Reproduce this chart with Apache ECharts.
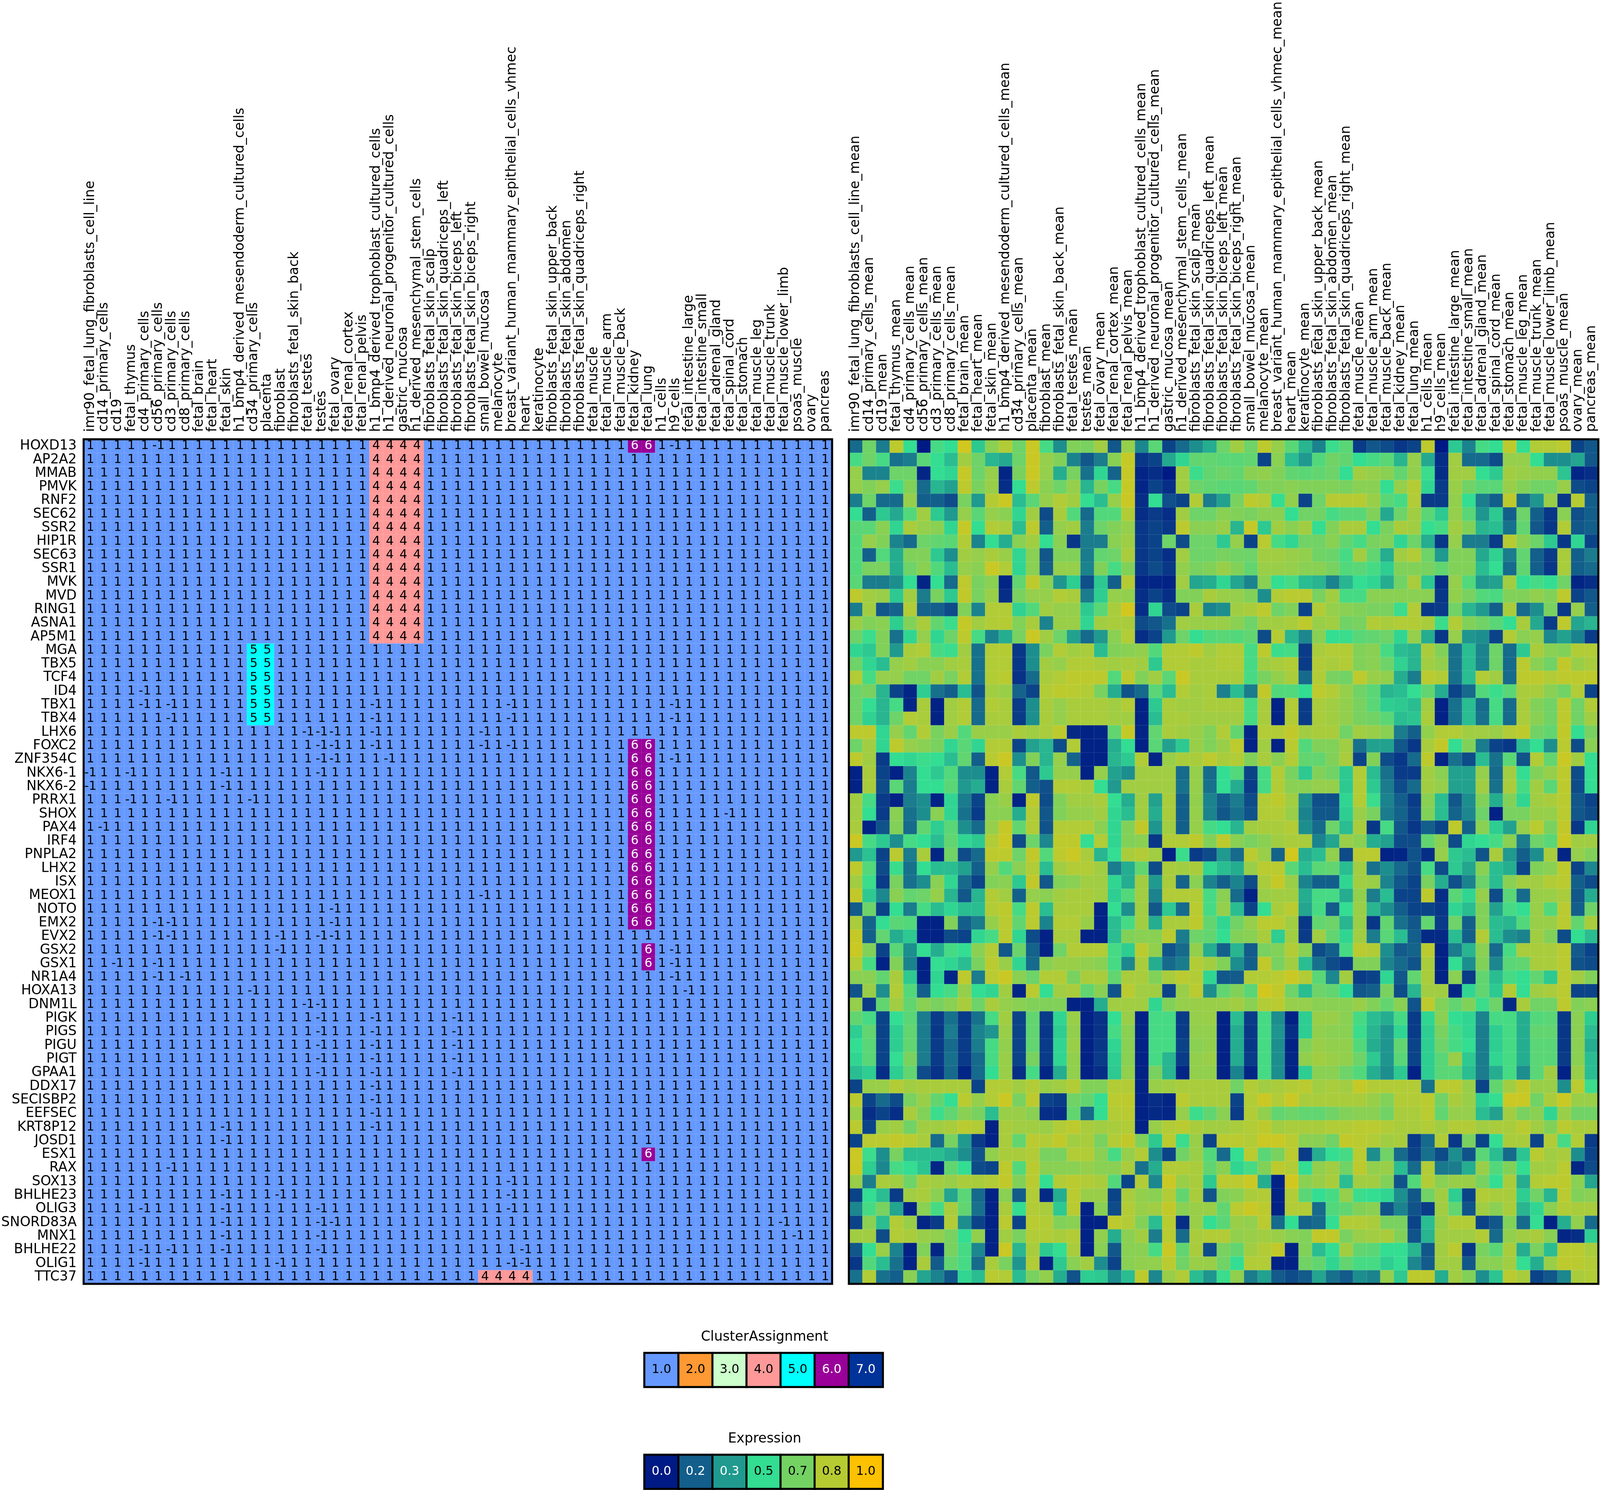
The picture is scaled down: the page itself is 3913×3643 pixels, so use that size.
<!DOCTYPE html>
<html><head><meta charset="utf-8">
<style>html,body{margin:0;padding:0;background:#fff}#c{width:3913px;height:3643px}</style>
<script src="https://cdn.jsdelivr.net/npm/echarts@6/dist/echarts.min.js"></script>
</head><body><div id="c"></div>
<script>
const samples = ["imr90_fetal_lung_fibroblasts_cell_line","cd14_primary_cells","cd19","fetal_thymus","cd4_primary_cells","cd56_primary_cells","cd3_primary_cells","cd8_primary_cells","fetal_brain","fetal_heart","fetal_skin","h1_bmp4_derived_mesendoderm_cultured_cells","cd34_primary_cells","placenta","fibroblast","fibroblasts_fetal_skin_back","fetal_testes","testes","fetal_ovary","fetal_renal_cortex","fetal_renal_pelvis","h1_bmp4_derived_trophoblast_cultured_cells","h1_derived_neuronal_progenitor_cultured_cells","gastric_mucosa","h1_derived_mesenchymal_stem_cells","fibroblasts_fetal_skin_scalp","fibroblasts_fetal_skin_quadriceps_left","fibroblasts_fetal_skin_biceps_left","fibroblasts_fetal_skin_biceps_right","small_bowel_mucosa","melanocyte","breast_variant_human_mammary_epithelial_cells_vhmec","heart","keratinocyte","fibroblasts_fetal_skin_upper_back","fibroblasts_fetal_skin_abdomen","fibroblasts_fetal_skin_quadriceps_right","fetal_muscle","fetal_muscle_arm","fetal_muscle_back","fetal_kidney","fetal_lung","h1_cells","h9_cells","fetal_intestine_large","fetal_intestine_small","fetal_adrenal_gland","fetal_spinal_cord","fetal_stomach","fetal_muscle_leg","fetal_muscle_trunk","fetal_muscle_lower_limb","psoas_muscle","ovary","pancreas"];
const meanSamples = samples.map(s => s + "_mean");
const genes = ["HOXD13","AP2A2","MMAB","PMVK","RNF2","SEC62","SSR2","HIP1R","SEC63","SSR1","MVK","MVD","RING1","ASNA1","AP5M1","MGA","TBX5","TCF4","ID4","TBX1","TBX4","LHX6","FOXC2","ZNF354C","NKX6-1","NKX6-2","PRRX1","SHOX","PAX4","IRF4","PNPLA2","LHX2","ISX","MEOX1","NOTO","EMX2","EVX2","GSX2","GSX1","NR1A4","HOXA13","DNM1L","PIGK","PIGS","PIGU","PIGT","GPAA1","DDX17","SECISBP2","EEFSEC","KRT8P12","JOSD1","ESX1","RAX","SOX13","BHLHE23","OLIG3","SNORD83A","MNX1","BHLHE22","OLIG1","TTC37"];

// Columns per gene row that read -1 in the assignment table
const minusOneCols = [[5,43],[],[],[],[],[],[],[],[],[],[],[],[],[],[],[],[],[],[4],[4,6,21,31,43],[6,21,31,43],[16,17,18,21,29],[17,18,21,29,31],[17,18,22,43],[0,3,10,17],[0,10],[3,6,12],[47],[1],[],[],[],[],[29],[18],[5,6,18],[5,6,14,17,18],[14,43],[2,5,43],[5,7,43],[12,44],[16,17],[17,21,27],[17,21,27],[17,21,27],[17,21,27],[17,21,27],[21],[21],[21],[10,21],[10],[],[6],[31],[10,14,31],[4,10,17,31],[10,17,18,51],[10,17,52],[4,6,10,17,32],[4,14,31,32],[]];
// Cells in other clusters: [cluster, rowFrom, rowTo, colFrom, colTo]
const clusterBlocks = [[4,0,14,21,24],[4,61,61,29,32],[5,15,20,12,13],[6,0,0,40,41],[6,22,35,40,41],[6,37,38,41,41],[6,52,52,41,41]];

const clusterLegendValues = [1,2,3,4,5,6,7];
const clusterLegendLabels = ["1.0","2.0","3.0","4.0","5.0","6.0","7.0"];
const clusterLegendColors = ["#6699ff","#ff9933","#ccffcc","#ff9999","#00ffff","#990099","#003399"];
const clusterTextColors = ["#000","#000","#000","#000","#000","#fff","#fff"];
const expressionLegendValues = [0,1/6,2/6,3/6,4/6,5/6,1];
const expressionLegendLabels = ["0.0","0.2","0.3","0.5","0.7","0.8","1.0"];
const expressionColors = ["#001a85","#135e8b","#209a8f","#33dd92","#74d263","#b6cb32","#fcc100"];
const expressionTextColors = ["#fff","#fff","#fff","#000","#000","#000","#000"];

const expressionRows = [
[.2,.65,.25,.85,.5,0,.55,.5,.9,.45,.72,.82,.65,.88,.55,.3,.7,.68,.78,.15,.75,.28,.6,.1,.2,.3,.38,.65,.78,.65,.85,.75,.6,.4,.27,.52,.6,.08,.15,.12,.07,.1,.85,0,.45,.27,.55,.5,.85,.5,.82,.82,.85,.1,.15],
[.55,.65,.55,.22,.25,.6,.5,.42,.78,.65,.4,.37,.65,.88,.75,.7,.27,.15,.25,.72,.87,.07,.1,.37,.48,.62,.62,.6,.6,.62,.1,.72,.42,.33,.58,.66,.62,.5,.55,.6,.4,.75,.37,.05,.78,.2,.2,.12,.75,.75,.5,.3,.3,.36,.15],
[.75,.27,.27,.65,.65,.03,.5,.48,.87,.65,.75,.03,.68,.88,.75,.38,.68,.22,.48,.18,.87,.03,.05,0,.78,.52,.62,.65,.62,.72,.74,.7,.62,.6,.62,.65,.5,.78,.75,.72,.62,.74,.52,.05,.78,.78,.5,.45,.78,.76,.74,.74,.44,.03,.05],
[.75,.7,.75,.52,.7,.2,.4,.35,.85,.68,.76,.05,.5,.85,.72,.65,.75,.4,.68,.55,.87,.03,.1,.05,.78,.65,.62,.6,.6,.62,.7,.7,.72,.7,.7,.7,.68,.72,.72,.5,.75,.83,.48,.08,.76,.66,.6,.6,.76,.7,.66,.66,.76,.12,.1],
[.25,.65,.2,.2,.75,.17,.17,.12,.68,.33,.83,.88,.42,.6,.75,.82,.78,.5,.42,.75,.88,.05,.5,.13,.1,.82,.25,.35,.68,.85,.82,.5,.74,.1,.65,.83,.83,.83,.76,.6,.55,.82,.08,.08,.74,.5,.25,.17,.85,.2,.32,.76,.07,.83,.17],
[.5,.17,.45,.37,.58,.78,.45,.33,.75,.6,.75,.72,.48,.78,.12,.8,.58,.2,.58,.58,.82,.05,.08,.05,.78,.65,.65,.72,.7,.68,.72,.72,.5,.66,.66,.55,.6,.6,.7,.37,.65,.78,.6,.45,.75,.6,.32,.45,.17,.65,.17,.07,.72,.13,.17],
[.6,.6,.72,.48,.8,.75,.72,.48,.87,.5,.82,.8,.42,.85,.17,.75,.78,.25,.65,.7,.75,.07,.1,.07,.85,.72,.72,.76,.4,.87,.45,.78,.72,.78,.5,.7,.8,.8,.5,.68,.8,.78,.5,.55,.78,.7,.4,.42,.22,.62,.15,.07,.82,.15,.17],
[.58,.75,.7,.27,.2,.65,.62,.6,.82,.27,.5,.38,.72,.78,.5,.72,.07,.25,.25,.72,.77,.07,.1,.65,.12,.65,.65,.45,.75,.1,.84,.55,.48,.66,.66,.72,.62,.55,.68,.7,.48,.65,.38,.07,.75,.25,.25,.08,.83,.72,.65,.45,.07,.48,.1],
[.58,.17,.58,.38,.7,.7,.45,.3,.78,.75,.8,.76,.48,.72,.15,.7,.7,.25,.62,.65,.8,.07,.1,.05,.78,.65,.65,.68,.66,.65,.78,.78,.76,.74,.66,.64,.55,.78,.62,.38,.78,.82,.65,.33,.7,.7,.37,.47,.25,.62,.17,.08,.8,.17,.25],
[.58,.68,.68,.38,.65,.72,.58,.42,.75,.72,.88,.82,.48,.72,.17,.75,.75,.27,.7,.55,.7,.07,.12,.07,.74,.68,.7,.76,.7,.62,.76,.76,.75,.72,.72,.68,.58,.6,.55,.46,.7,.7,.68,.62,.7,.7,.42,.5,.2,.62,.17,.07,.8,.17,.2],
[.6,.25,.25,.3,.5,.03,.5,.2,.85,.68,.72,.03,.62,.85,.72,.32,.46,.13,.45,.17,.83,.03,.03,.02,.78,.36,.38,.48,.36,.27,.72,.5,.55,.42,.4,.27,.4,.5,.48,.38,.66,.8,.45,.05,.75,.58,.33,.35,.78,.5,.55,.5,.66,.03,.05],
[.85,.78,.76,.45,.78,.25,.68,.45,.86,.68,.76,.05,.68,.75,.75,.82,.8,.25,.46,.75,.74,.05,.1,.05,.7,.7,.8,.76,.75,.7,.3,.82,.84,.84,.68,.78,.55,.55,.72,.72,.72,.72,.72,.07,.74,.68,.58,.56,.7,.7,.74,.7,.85,.1,.15],
[.25,.78,.15,.18,.82,.18,.17,.12,.7,.27,.82,.82,.47,.58,.78,.75,.75,.45,.6,.8,.9,.05,.48,.12,.1,.8,.27,.3,.78,.8,.85,.65,.7,.1,.82,.75,.72,.7,.68,.68,.52,.82,.07,.08,.66,.4,.33,.17,.8,.2,.3,.68,.07,.75,.17],
[.76,.7,.72,.46,.7,.8,.62,.52,.87,.78,.82,.83,.7,.8,.27,.76,.76,.48,.78,.8,.8,.12,.15,.22,.78,.76,.76,.76,.72,.65,.78,.78,.8,.85,.76,.78,.66,.68,.82,.8,.82,.82,.8,.52,.82,.7,.66,.6,.5,.8,.37,.08,.85,.36,.4],
[.65,.52,.7,.22,.48,.75,.48,.65,.85,.55,.27,.38,.68,.88,.78,.65,.35,.2,.33,.72,.82,.05,.1,.33,.65,.5,.58,.6,.58,.62,.12,.83,.4,.28,.72,.5,.52,.6,.62,.65,.48,.75,.38,.07,.75,.32,.3,.1,.82,.72,.75,.28,.35,.27,.08],
[.48,.45,.7,.33,.8,.82,.55,.52,.78,.22,.82,.83,.07,.3,.68,.82,.78,.8,.42,.7,.72,.74,.58,.82,.82,.85,.78,.82,.82,.55,.85,.52,.55,.08,.8,.82,.82,.7,.72,.55,.42,.4,.8,.7,.22,.42,.27,.65,.2,.45,.8,.72,.7,.82,.82],
[.65,.48,.42,.75,.78,.72,.72,.78,.8,.22,.82,.82,.07,.3,.78,.75,.82,.82,.8,.78,.8,.78,.45,.82,.82,.8,.8,.82,.82,.55,.78,.8,.82,.08,.82,.8,.82,.7,.72,.65,.47,.4,.78,.74,.22,.42,.27,.65,.2,.84,.72,.66,.86,.76,.8],
[.82,.55,.75,.75,.66,.66,.78,.68,.82,.22,.82,.84,.06,.2,.8,.82,.85,.85,.85,.58,.85,.7,.78,.6,.88,.8,.8,.8,.8,.55,.68,.74,.8,.2,.82,.68,.66,.85,.76,.74,.38,.25,.84,.82,.22,.42,.82,.78,.2,.85,.85,.82,.85,.85,.85],
[.65,.68,.4,.1,.03,.46,.22,.17,.42,.14,.78,.76,.18,.1,.82,.85,.84,.82,.68,.38,.14,.2,.6,.42,.82,.78,.8,.26,.42,.25,.86,.58,.58,.5,.85,.82,.75,.66,.6,.4,.42,.5,.62,.38,.1,.2,.58,.52,.6,.8,.8,.72,.66,.82,.1],
[.65,.5,.4,.55,.03,.8,.02,.78,.82,.2,.82,.8,.08,.3,.8,.75,.8,.8,.8,.78,.82,.02,.45,.8,.78,.78,.8,.8,.8,.55,.8,.02,.82,.08,.8,.78,.74,.68,.6,.46,.45,.42,.78,.02,.22,.42,.2,.55,.2,.8,.7,.66,.85,.66,.82],
[.65,.47,.4,.65,.82,.8,.02,.78,.82,.2,.8,.8,.08,.3,.8,.75,.8,.8,.8,.78,.78,.02,.42,.8,.8,.78,.78,.78,.78,.55,.8,.02,.82,.08,.8,.78,.74,.68,.66,.6,.42,.44,.8,.02,.22,.42,.22,.55,.2,.8,.72,.66,.85,.66,.78],
[.85,.85,.48,.75,.62,.82,.68,.76,.58,.76,.76,.76,.8,.78,.8,.85,.04,.02,.03,.62,.87,.03,.62,.8,.78,.76,.7,.82,.62,.03,.82,.82,.86,.78,.8,.8,.66,.78,.76,.72,.25,.17,.74,.82,.82,.78,.78,.76,.82,.85,.66,.62,.86,.5,.68],
[.65,.78,.48,.85,.75,.72,.68,.48,.6,.48,.82,.82,.1,.35,.4,.12,.82,.02,.02,.38,.5,.02,.6,.35,.45,.76,.7,.76,.85,.02,.78,.02,.84,.58,.7,.7,.78,.22,.35,.35,.15,.07,.8,.86,.5,.7,.25,.1,.07,.42,.5,.3,.84,.12,.72],
[.85,.78,.08,.5,.48,.52,.5,.42,.62,.17,.84,.88,.3,.7,.4,.75,.18,.02,.02,.4,.45,.82,.03,.76,.8,.8,.85,.8,.82,.7,.8,.72,.82,.62,.62,.7,.8,.1,.7,.12,.07,.2,.85,.02,.22,.12,.42,.22,.6,.14,.82,.62,.88,.78,.5],
[.02,.8,.1,.02,.27,.5,.45,.58,.3,.3,.02,.82,.55,.15,.45,.75,.75,.02,.75,.35,.3,.78,.78,.78,.2,.75,.2,.5,.58,.1,.55,.82,.68,.45,.7,.66,.45,.82,.42,.22,.08,.08,.78,.72,.35,.35,.75,.2,.78,.5,.7,.75,.85,.12,.5],
[.02,.8,.12,.6,.25,.5,.5,.6,.33,.38,.02,.8,.62,.17,.13,.82,.82,.8,.5,.33,.78,.78,.78,.78,.22,.75,.22,.5,.38,.08,.55,.82,.72,.72,.75,.75,.45,.82,.45,.25,.12,.2,.78,.75,.35,.35,.78,.22,.8,.55,.78,.6,.85,.12,.5],
[.78,.55,.08,.02,.25,.3,.02,.48,.25,.1,.72,.76,.02,.85,.12,.7,.78,.78,.8,.5,.38,.78,.35,.8,.17,.74,.27,.17,.25,.12,.82,.85,.78,.3,.13,.13,.48,.82,.52,.27,.17,.08,.72,.42,.15,.3,.7,.38,.7,.48,.78,.8,.84,.15,.1],
[.78,.5,.08,.72,.22,.3,.72,.48,.22,.08,.72,.72,.38,.82,.15,.7,.75,.75,.78,.48,.42,.78,.38,.8,.17,.75,.27,.15,.22,.14,.82,.82,.76,.27,.15,.15,.46,.76,.68,.25,.18,.1,.7,.42,.18,.28,.65,.02,.68,.68,.76,.75,.84,.15,.12],
[.8,.02,.14,.7,.2,.62,.46,.6,.3,.2,.75,.87,.62,.82,.14,.82,.82,.82,.72,.48,.7,.86,.32,.78,.17,.75,.55,.5,.4,.78,.8,.8,.82,.3,.2,.65,.42,.8,.07,.55,.15,.07,.17,.1,.85,.17,.72,.46,.35,.75,.84,.68,.86,.07,.48],
[.88,.55,.45,.3,.55,.5,.42,.62,.48,.45,.82,.88,.12,.65,.28,.85,.85,.5,.82,.48,.7,.72,.07,.82,.82,.85,.7,.85,.72,.68,.72,.78,.8,.8,.27,.36,.76,.72,.38,.35,.12,.12,.62,.72,.12,.48,.5,.55,.72,.25,.65,.6,.88,.78,.78],
[.33,.43,.1,.84,.25,.8,.03,.66,.12,.2,.85,.85,.65,.86,.58,.85,.88,.8,.4,.5,.8,.82,.78,.02,.52,.08,.12,.33,.2,.84,.76,.18,.9,.38,.42,.74,.12,.84,.84,.02,.03,.14,.05,.75,.45,.42,.14,.8,.33,.17,.3,.8,.03,.75,.7],
[.85,.58,.12,.52,.22,.5,.42,.42,.35,.17,.75,.58,.72,.82,.42,.78,.82,.82,.78,.25,.38,.62,.12,.8,.78,.8,.48,.42,.38,.76,.84,.84,.6,.42,.6,.62,.42,.78,.22,.3,.2,.13,.55,.12,.45,.36,.72,.42,.38,.1,.7,.72,.85,.1,.28],
[.78,.52,.08,.68,.22,.3,.72,.48,.2,.1,.7,.72,.45,.86,.15,.7,.72,.78,.78,.48,.38,.78,.33,.8,.18,.72,.27,.17,.27,.12,.8,.87,.76,.27,.17,.17,.48,.78,.76,.27,.15,.1,.68,.38,.13,.27,.65,.42,.72,.78,.78,.82,.84,.17,.12],
[.86,.45,.28,.72,.62,.65,.75,.4,.15,.4,.82,.78,.17,.75,.72,.78,.8,.8,.78,.46,.58,.78,.27,.82,.82,.82,.55,.72,.2,.02,.76,.78,.78,.38,.55,.55,.38,.74,.25,.42,.1,.1,.85,.05,.6,.48,.75,.12,.6,.2,.76,.76,.8,.15,.38],
[.16,.65,.1,.5,.25,.55,.42,.48,.42,.42,.82,.85,.55,.85,.42,.8,.8,.8,.02,.5,.3,.78,.15,.45,.2,.84,.55,.75,.42,.1,.5,.8,.84,.36,.55,.16,.5,.76,.4,.3,.17,.1,.1,.07,.48,.42,.7,.35,.55,.5,.76,.58,.84,.17,.65],
[.8,.18,.5,.6,.58,.02,.02,.7,.17,.25,.75,.84,.62,.84,.27,.82,.82,.76,.02,.42,.55,.78,.38,.8,.8,.85,.62,.48,.66,.75,.84,.84,.78,.07,.62,.65,.4,.76,.07,.62,.22,.15,.62,.08,.65,.17,.7,.42,.4,.58,.76,.76,.84,.62,.8],
[.87,.17,.62,.38,.45,.02,.02,.12,.1,.48,.55,.84,.48,.12,.02,.8,.8,.02,.02,.42,.7,.72,.72,.84,.25,.65,.62,.5,.7,.72,.8,.46,.78,.08,.78,.62,.48,.78,.25,.6,.42,.17,.04,.04,.42,.17,.82,.42,.3,.27,.78,.7,.12,.5,.42],
[.88,.7,.1,.6,.3,.5,.38,.55,.5,.72,.82,.15,.64,.18,.02,.66,.82,.82,.82,.55,.46,.84,.74,.14,.2,.74,.38,.17,.4,.16,.68,.7,.82,.72,.12,.17,.55,.84,.82,.3,.16,.18,.84,.02,.25,.4,.72,.2,.55,.8,.8,.8,.84,.16,.1],
[.82,.55,.02,.7,.27,.02,.5,.48,.42,.68,.84,.76,.48,.2,.72,.76,.76,.74,.72,.55,.28,.8,.38,.2,.25,.82,.78,.7,.3,.17,.86,.68,.78,.42,.22,.12,.08,.7,.7,.27,.2,.14,.8,.02,.5,.3,.7,.28,.6,.62,.8,.8,.84,.14,.12],
[.72,.72,.62,.8,.45,.02,.48,.03,.85,.25,.84,.88,.72,.65,.82,.82,.68,.8,.8,.62,.8,.8,.7,.8,.84,.82,.48,.15,.16,.82,.82,.84,.88,.82,.6,.28,.78,.08,.1,.48,.15,.62,.8,.02,.72,.08,.62,.42,.55,.5,.62,.45,.84,.78,.7],
[.14,.76,.3,.82,.58,.17,.5,.55,.75,.5,.48,.78,.03,.84,.5,.78,.8,.62,.72,.14,.84,.78,.78,.1,.76,.84,.3,.62,.7,.6,.9,.86,.65,.42,.65,.62,.5,.15,.17,.68,.12,.4,.78,.78,.03,.48,.62,.45,.82,.5,.78,.8,.84,.1,.1],
[.75,.08,.62,.78,.62,.72,.68,.72,.8,.65,.8,.75,.72,.7,.7,.7,.02,.02,.38,.78,.78,.78,.48,.7,.75,.76,.76,.76,.78,.72,.82,.84,.75,.75,.72,.72,.72,.76,.7,.62,.72,.14,.85,.7,.62,.7,.52,.65,.04,.8,.66,.66,.85,.7,.72],
[.62,.55,.1,.5,.6,.25,.08,.22,.08,.22,.55,.78,.1,.62,.08,.48,.76,.02,.06,.5,.76,.02,.55,.55,.08,.75,.76,.02,.42,.08,.55,.3,.02,.46,.76,.76,.72,.55,.42,.38,.55,.08,.48,.72,.5,.48,.27,.55,.55,.38,.58,.6,.07,.72,.46],
[.46,.62,.1,.46,.62,.25,.07,.25,.07,.27,.32,.76,.1,.62,.07,.46,.74,.02,.06,.55,.72,.02,.55,.55,.08,.74,.74,.02,.38,.07,.55,.32,.05,.46,.74,.72,.72,.52,.4,.32,.48,.08,.46,.68,.55,.48,.25,.46,.55,.38,.62,.62,.07,.72,.42],
[.5,.6,.1,.46,.62,.25,.08,.2,.08,.25,.55,.74,.1,.62,.08,.48,.76,.02,.07,.48,.72,.02,.55,.55,.1,.72,.74,.02,.38,.07,.55,.3,.02,.7,.76,.74,.74,.58,.38,.32,.62,.1,.46,.65,.55,.5,.25,.46,.55,.38,.6,.6,.07,.72,.38],
[.48,.6,.1,.5,.68,.25,.08,.22,.08,.2,.55,.76,.1,.68,.08,.48,.74,.02,.08,.46,.72,.02,.55,.4,.08,.74,.76,.02,.38,.08,.55,.3,.03,.74,.78,.76,.74,.65,.45,.32,.6,.1,.46,.6,.76,.45,.25,.48,.55,.38,.6,.6,.08,.72,.42],
[.42,.46,.05,.46,.62,.12,.06,.2,.03,.2,.5,.76,.05,.55,.03,.38,.74,.02,.05,.45,.74,.02,.68,.4,.03,.74,.74,.02,.27,.03,.55,.3,.02,.46,.72,.72,.65,.58,.38,.3,.45,.02,.46,.6,.6,.42,.25,.38,.55,.3,.6,.78,.02,.76,.42],
[.1,.76,.76,.82,.78,.8,.8,.8,.8,.1,.82,.82,.78,.82,.76,.78,.82,.7,.7,.82,.82,.02,.76,.78,.8,.8,.8,.8,.66,.82,.78,.8,.82,.84,.78,.8,.78,.87,.82,.82,.82,.82,.22,.84,.84,.76,.1,.62,.78,.86,.76,.76,.3,.84,.52],
[.84,.1,.2,.12,.68,.76,.62,.5,.84,.75,.82,.88,.68,.85,.1,.08,.66,.62,.5,.84,.85,.02,.05,.03,.84,.8,.8,.8,.1,.82,.88,.82,.88,.8,.8,.8,.8,.8,.76,.7,.82,.82,.84,.66,.8,.76,.46,.5,.88,.88,.66,.8,.88,.76,.76],
[.76,.05,.1,.05,.8,.7,.52,.62,.72,.68,.42,.76,.76,.72,.05,.05,.62,.2,.5,.82,.84,.02,.04,.03,.75,.52,.62,.72,.08,.82,.74,.62,.65,.62,.62,.66,.7,.72,.72,.66,.8,.8,.84,.62,.75,.75,.42,.35,.78,.68,.72,.48,.76,.66,.66],
[.84,.1,.76,.78,.66,.78,.78,.8,.84,.82,.02,.8,.78,.78,.76,.82,.85,.8,.78,.8,.82,.02,.76,.82,.84,.8,.78,.78,.8,.82,.85,.78,.8,.8,.8,.82,.82,.84,.84,.82,.8,.8,.82,.78,.82,.82,.78,.8,.8,.84,.78,.7,.84,.8,.8],
[.1,.84,.84,.86,.84,.8,.2,.68,.33,.08,.02,.8,.62,.84,.82,.86,.78,.8,.68,.82,.86,.7,.45,.84,.52,.76,.1,.84,.84,.82,.88,.88,.84,.72,.72,.66,.86,.84,.82,.78,.8,.08,.2,.82,.07,.68,.1,.5,.8,.8,.1,.82,.55,.82,.08],
[.88,.52,.3,.68,.42,.42,.42,.38,.3,.14,.74,.8,.8,.82,.68,.68,.82,.82,.72,.55,.75,.82,.3,.1,.66,.76,.58,.2,.5,.84,.6,.68,.84,.08,.38,.5,.55,.84,.3,.66,.2,.1,.22,.12,.3,.14,.6,.42,.2,.44,.84,.78,.8,.3,.1],
[.88,.46,.28,.55,.5,.44,.03,.62,.5,.12,.1,.85,.58,.84,.72,.72,.72,.75,.72,.72,.8,.22,.38,.82,.82,.8,.62,.72,.48,.55,.7,.85,.82,.5,.74,.78,.66,.85,.74,.76,.42,.2,.82,.24,.25,.38,.76,.58,.7,.5,.78,.78,.84,.03,.12],
[.76,.25,.8,.78,.65,.8,.78,.76,.8,.8,.82,.86,.7,.84,.5,.82,.84,.82,.8,.58,.1,.82,.28,.88,.76,.8,.45,.84,.84,.88,.38,.02,.9,.72,.76,.8,.42,.78,.78,.7,.14,.58,.82,.72,.76,.76,.68,.5,.8,.38,.82,.84,.85,.72,.36],
[.1,.5,.42,.08,.78,.8,.72,.36,.6,.2,.02,.72,.16,.82,.04,.38,.84,.76,.76,.1,.8,.74,.72,.82,.62,.8,.14,.7,.72,.8,.82,.02,.82,.6,.5,.55,.75,.52,.5,.48,.3,.15,.66,.78,.46,.1,.82,.8,.8,.46,.66,.4,.84,.7,.72],
[.28,.55,.68,.36,.02,.72,.55,.8,.62,.22,.02,.8,.5,.82,.8,.45,.84,.02,.72,.12,.82,.76,.78,.86,.72,.76,.76,.62,.84,.88,.85,.02,.82,.82,.2,.58,.62,.7,.72,.14,.27,.14,.08,.78,.62,.14,.78,.72,.8,.4,.48,.72,.82,.8,.8],
[.1,.72,.42,.82,.76,.03,.08,.82,.3,.1,.02,.84,.1,.84,.82,.7,.72,.02,.02,.85,.82,.7,.42,.84,.05,.76,.5,.6,.76,.74,.84,.2,.5,.18,.2,.5,.82,.82,.8,.68,.68,.1,.42,.76,.82,.82,.1,.15,.7,.2,.5,.02,.38,.74,.2],
[.78,.78,.12,.82,.8,.76,.74,.68,.5,.74,.02,.78,.68,.82,.82,.8,.82,.02,.74,.38,.72,.78,.25,.84,.2,.8,.82,.82,.74,.76,.78,.76,.72,.7,.86,.86,.68,.76,.78,.8,.7,.14,.4,.78,.78,.78,.82,.2,.74,.78,.8,.72,.03,.05,.46],
[.15,.5,.76,.27,.02,.7,.03,.68,.55,.28,.02,.88,.4,.8,.45,.5,.8,.02,.72,.15,.72,.72,.55,.88,.62,.8,.12,.68,.62,.78,.82,.86,.02,.7,.42,.5,.78,.62,.6,.5,.5,.4,.15,.78,.84,.07,.68,.6,.8,.38,.68,.42,.84,.84,.8],
[.07,.58,.42,.22,.02,.8,.16,.62,.55,.2,.8,.68,.32,.82,.02,.45,.72,.78,.3,.1,.72,.74,.74,.84,.66,.76,.76,.66,.5,.82,.82,.02,.02,.66,.62,.48,.62,.55,.55,.46,.5,.28,.16,.78,.78,.15,.72,.72,.78,.5,.38,.76,.85,.84,.82],
[.22,.82,.22,.17,.72,.36,.27,.15,.48,.42,.84,.82,.42,.68,.74,.38,.14,.46,.45,.3,.42,.85,.28,.76,.82,.42,.32,.52,.74,.25,.35,.16,.12,.16,.36,.22,.16,.3,.27,.75,.45,.85,.85,.38,.78,.7,.3,.44,.84,.8,.1,.15,.28,.8,.82]
];

// ---- Build series from the arrays above ----
const clusterOf = genes.map(() => samples.map(() => 1));
clusterBlocks.forEach(([c, r0, r1, c0, c1]) => {
  for (let r = r0; r <= r1; r++) for (let k = c0; k <= c1; k++) clusterOf[r][k] = c;
});
const clusterData = [];
genes.forEach((g, r) => samples.forEach((s, k) => {
  const cl = clusterOf[r][k];
  const shown = cl === 1 && minusOneCols[r].includes(k) ? -1 : cl;
  clusterData.push({
    value: [k, r, shown],
    itemStyle: { color: clusterLegendColors[cl - 1] },
    label: { color: clusterTextColors[cl - 1] }
  });
}));
const expressionData = [];
expressionRows.forEach((row, r) => row.forEach((v, k) => expressionData.push([k, r, v])));

const FONT = '"DejaVu Sans"';
const frame = { show: true, borderColor: '#000', borderWidth: 5, backgroundColor: 'transparent', z: 5 };
const topAxis = (cats, gridIndex) => ({
  type: 'category', data: cats, gridIndex, position: 'top',
  axisLine: { show: false }, axisTick: { show: false }, splitLine: { show: false },
  axisLabel: { interval: 0, rotate: -90, margin: 18, fontSize: 33, fontFamily: FONT, color: '#000', hideOverlap: false }
});
const leftAxis = (gridIndex, show) => ({
  type: 'category', data: genes, gridIndex, inverse: true,
  axisLine: { show: false }, axisTick: { show: false }, splitLine: { show: false },
  axisLabel: { show, interval: 0, margin: 17, fontSize: 33, fontFamily: FONT, color: '#000', hideOverlap: false }
});
const legendX = (cats, gridIndex) => ({ type: 'category', data: cats, gridIndex, show: false });
const legendY = gridIndex => ({ type: 'category', data: ['a'], gridIndex, show: false });
const cellStyle = { borderColor: 'rgba(255,255,255,0.14)', borderWidth: 1 };

const chart = echarts.init(document.getElementById('c'), null, { renderer: 'canvas', width: 3913, height: 3643 });
chart.setOption({
  animation: false,
  backgroundColor: '#fff',
  title: [
    { text: 'ClusterAssignment', left: 1865, top: 3248, textAlign: 'center', textStyle: { fontSize: 33, fontWeight: 'normal', fontFamily: FONT, color: '#000' } },
    { text: 'Expression', left: 1865, top: 3497, textAlign: 'center', textStyle: { fontSize: 33, fontWeight: 'normal', fontFamily: FONT, color: '#000' } }
  ],
  grid: [
    Object.assign({ left: 201, top: 1074, width: 1834, height: 2065 }, frame),
    Object.assign({ left: 2076, top: 1074, width: 1833, height: 2065 }, frame),
    { left: 1576, top: 3308, width: 583, height: 83, show: false },
    { left: 1576, top: 3557, width: 583, height: 83, show: false }
  ],
  xAxis: [topAxis(samples, 0), topAxis(meanSamples, 1), legendX(clusterLegendLabels, 2), legendX(expressionLegendLabels, 3)],
  yAxis: [leftAxis(0, true), leftAxis(1, false), legendY(2), legendY(3)],
  visualMap: [{
    type: 'continuous', show: false, seriesIndex: 1, min: 0, max: 1, dimension: 2,
    inRange: { color: expressionColors }
  }],
  series: [
    { type: 'heatmap', xAxisIndex: 0, yAxisIndex: 0, data: clusterData, itemStyle: cellStyle, emphasis: { disabled: true },
      label: { show: true, fontSize: 30, fontFamily: FONT, formatter: p => String(p.value[2]) } },
    { type: 'heatmap', xAxisIndex: 1, yAxisIndex: 1, data: expressionData, itemStyle: cellStyle, emphasis: { disabled: true } },
    { type: 'heatmap', xAxisIndex: 2, yAxisIndex: 2, emphasis: { disabled: true },
      data: clusterLegendValues.map((v, i) => ({ value: [i, 0, v], itemStyle: { color: clusterLegendColors[i] }, label: { color: clusterTextColors[i] } })),
      itemStyle: { borderColor: '#000', borderWidth: 5 },
      label: { show: true, fontSize: 30, fontFamily: FONT, formatter: p => clusterLegendLabels[p.value[0]] } },
    { type: 'heatmap', xAxisIndex: 3, yAxisIndex: 3, emphasis: { disabled: true },
      data: expressionLegendValues.map((v, i) => ({ value: [i, 0, v], itemStyle: { color: expressionColors[i] }, label: { color: expressionTextColors[i] } })),
      itemStyle: { borderColor: '#000', borderWidth: 5 },
      label: { show: true, fontSize: 30, fontFamily: FONT, formatter: p => expressionLegendLabels[p.value[0]] } }
  ]
});
</script></body></html>
